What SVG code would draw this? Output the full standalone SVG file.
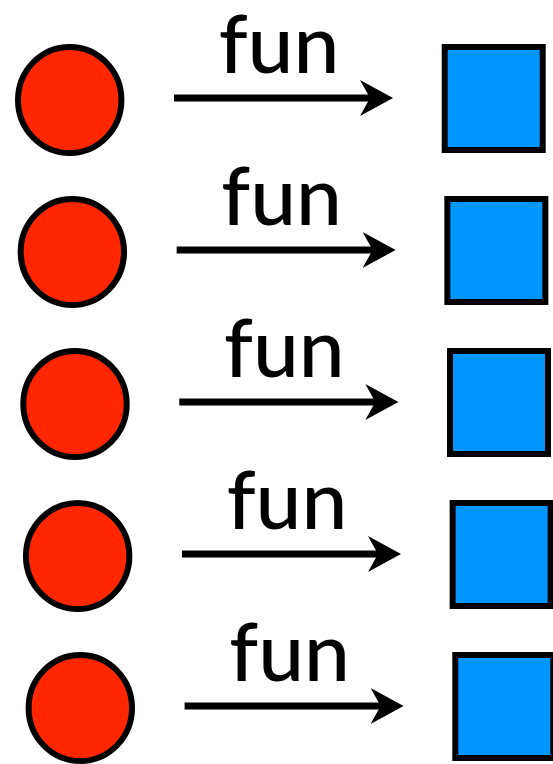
<svg xmlns="http://www.w3.org/2000/svg" width="553" height="764" viewBox="0 0 553 764">
  <style>
    .src { fill: #FF2600; stroke: #000; stroke-width: 6; }
    .dst { fill: #0096FF; stroke: #000; stroke-width: 6; }
    .edge { stroke: #000; stroke-width: 7; fill: none; marker-end: url(#head); }
    .lbl { font-family: Lato, "Open Sans", sans-serif; font-weight: 500; font-size: 82px; fill: #000; text-anchor: middle; }
  </style>
  <defs>
    <marker id="head" markerUnits="userSpaceOnUse" viewBox="0 0 33 36" markerWidth="33" markerHeight="36" refX="12" refY="18" orient="auto">
      <path d="M0,0 L33,18 L0,36 L10,18 Z" fill="#000"/>
    </marker>
    <ellipse id="dot" cx="69.7" cy="100" rx="51.7" ry="53"/>
    <rect id="box" x="444.7" y="47" width="98" height="103"/>
  </defs>

  <!-- source circles -->
  <g id="circle1" transform="translate(0,0)"><use href="#dot" class="src"/></g>
  <g id="circle2" transform="translate(2.65,152)"><use href="#dot" class="src"/></g>
  <g id="circle3" transform="translate(5.3,304)"><use href="#dot" class="src"/></g>
  <g id="circle4" transform="translate(7.95,456)"><use href="#dot" class="src"/></g>
  <g id="circle5" transform="translate(10.6,608)"><use href="#dot" class="src"/></g>

  <!-- target squares -->
  <g id="square1" transform="translate(0,0)"><use href="#box" class="dst"/></g>
  <g id="square2" transform="translate(2.65,152)"><use href="#box" class="dst"/></g>
  <g id="square3" transform="translate(5.3,304)"><use href="#box" class="dst"/></g>
  <g id="square4" transform="translate(7.95,456)"><use href="#box" class="dst"/></g>
  <g id="square5" transform="translate(10.6,608)"><use href="#box" class="dst"/></g>

  <!-- mapping arrows with labels -->
  <g id="connectors">
    <g transform="translate(0,0)">
      <line class="edge" x1="174" y1="98" x2="372" y2="98"/>
      <text class="lbl" x="279" y="73">fun</text>
    </g>
    <g transform="translate(2.65,152)">
      <line class="edge" x1="174" y1="98" x2="372" y2="98"/>
      <text class="lbl" x="279" y="73">fun</text>
    </g>
    <g transform="translate(5.3,304)">
      <line class="edge" x1="174" y1="98" x2="372" y2="98"/>
      <text class="lbl" x="279" y="73">fun</text>
    </g>
    <g transform="translate(7.95,456)">
      <line class="edge" x1="174" y1="98" x2="372" y2="98"/>
      <text class="lbl" x="279" y="73">fun</text>
    </g>
    <g transform="translate(10.6,608)">
      <line class="edge" x1="174" y1="98" x2="372" y2="98"/>
      <text class="lbl" x="279" y="73">fun</text>
    </g>
  </g>
</svg>
